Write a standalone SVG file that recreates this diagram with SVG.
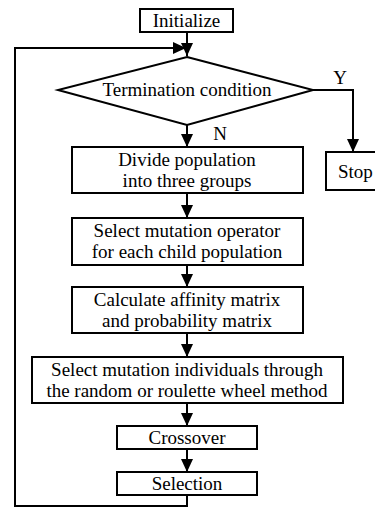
<svg xmlns="http://www.w3.org/2000/svg" width="375" height="508" viewBox="0 0 375 508">
<style>
.box{fill:#fff;stroke:#000;stroke-width:2}
.t{font-family:"Liberation Serif","Times New Roman",serif;font-size:19px;fill:#000;text-anchor:middle}
.c{fill:none;stroke:#000;stroke-width:2}
</style>
<defs>
<marker id="ah" viewBox="0 0 13 12" refX="13" refY="6" markerWidth="13" markerHeight="12" markerUnits="userSpaceOnUse" orient="auto">
<path d="M0,0 L13,6 L0,12 Z" fill="#000"/>
</marker>
</defs>
<rect width="375" height="508" fill="#fff"/>
<g id="connectors">
<path class="c" d="M187,32 V56" marker-end="url(#ah)"/>
<path class="c" d="M187,495 V506 H15 V48 H186" marker-end="url(#ah)"/>
<path class="c" d="M187,125 V147" marker-end="url(#ah)"/>
<path class="c" d="M313,90 H353 V152" marker-end="url(#ah)"/>
<path class="c" d="M187,193 V218" marker-end="url(#ah)"/>
<path class="c" d="M187,265 V287" marker-end="url(#ah)"/>
<path class="c" d="M187,333 V357" marker-end="url(#ah)"/>
<path class="c" d="M187,403 V426" marker-end="url(#ah)"/>
<path class="c" d="M187,449 V472" marker-end="url(#ah)"/>
<text class="t" x="340" y="84">Y</text>
<text class="t" x="220" y="140">N</text>
</g>
<g id="initialize">
<rect class="box" x="140" y="9" width="93" height="23"/>
<text class="t" x="186.5" y="27">Initialize</text>
</g>
<g id="termination">
<polygon class="box" points="187,57 313,90 187,125 58,90"/>
<text class="t" x="187" y="96">Termination condition</text>
</g>
<g id="stop">
<rect class="box" x="326" y="152" width="60" height="38"/>
<text class="t" x="338" y="178" style="text-anchor:start">Stop</text>
</g>
<g id="divide">
<rect class="box" x="72" y="147" width="231" height="46"/>
<text class="t" x="187" y="166">Divide population</text>
<text class="t" x="187" y="187">into three groups</text>
</g>
<g id="select-operator">
<rect class="box" x="72" y="218" width="231" height="47"/>
<text class="t" x="187" y="237">Select mutation operator</text>
<text class="t" x="187" y="258">for each child population</text>
</g>
<g id="calculate">
<rect class="box" x="72" y="287" width="231" height="46"/>
<text class="t" x="187" y="306">Calculate affinity matrix</text>
<text class="t" x="187" y="327">and probability matrix</text>
</g>
<g id="select-individuals">
<rect class="box" x="32" y="357" width="311" height="46"/>
<text class="t" x="187" y="376">Select mutation individuals through</text>
<text class="t" x="187" y="397">the random or roulette wheel method</text>
</g>
<g id="crossover">
<rect class="box" x="117" y="426" width="140" height="23"/>
<text class="t" x="187" y="444">Crossover</text>
</g>
<g id="selection">
<rect class="box" x="117" y="472" width="140" height="23"/>
<text class="t" x="187" y="490">Selection</text>
</g>
</svg>
